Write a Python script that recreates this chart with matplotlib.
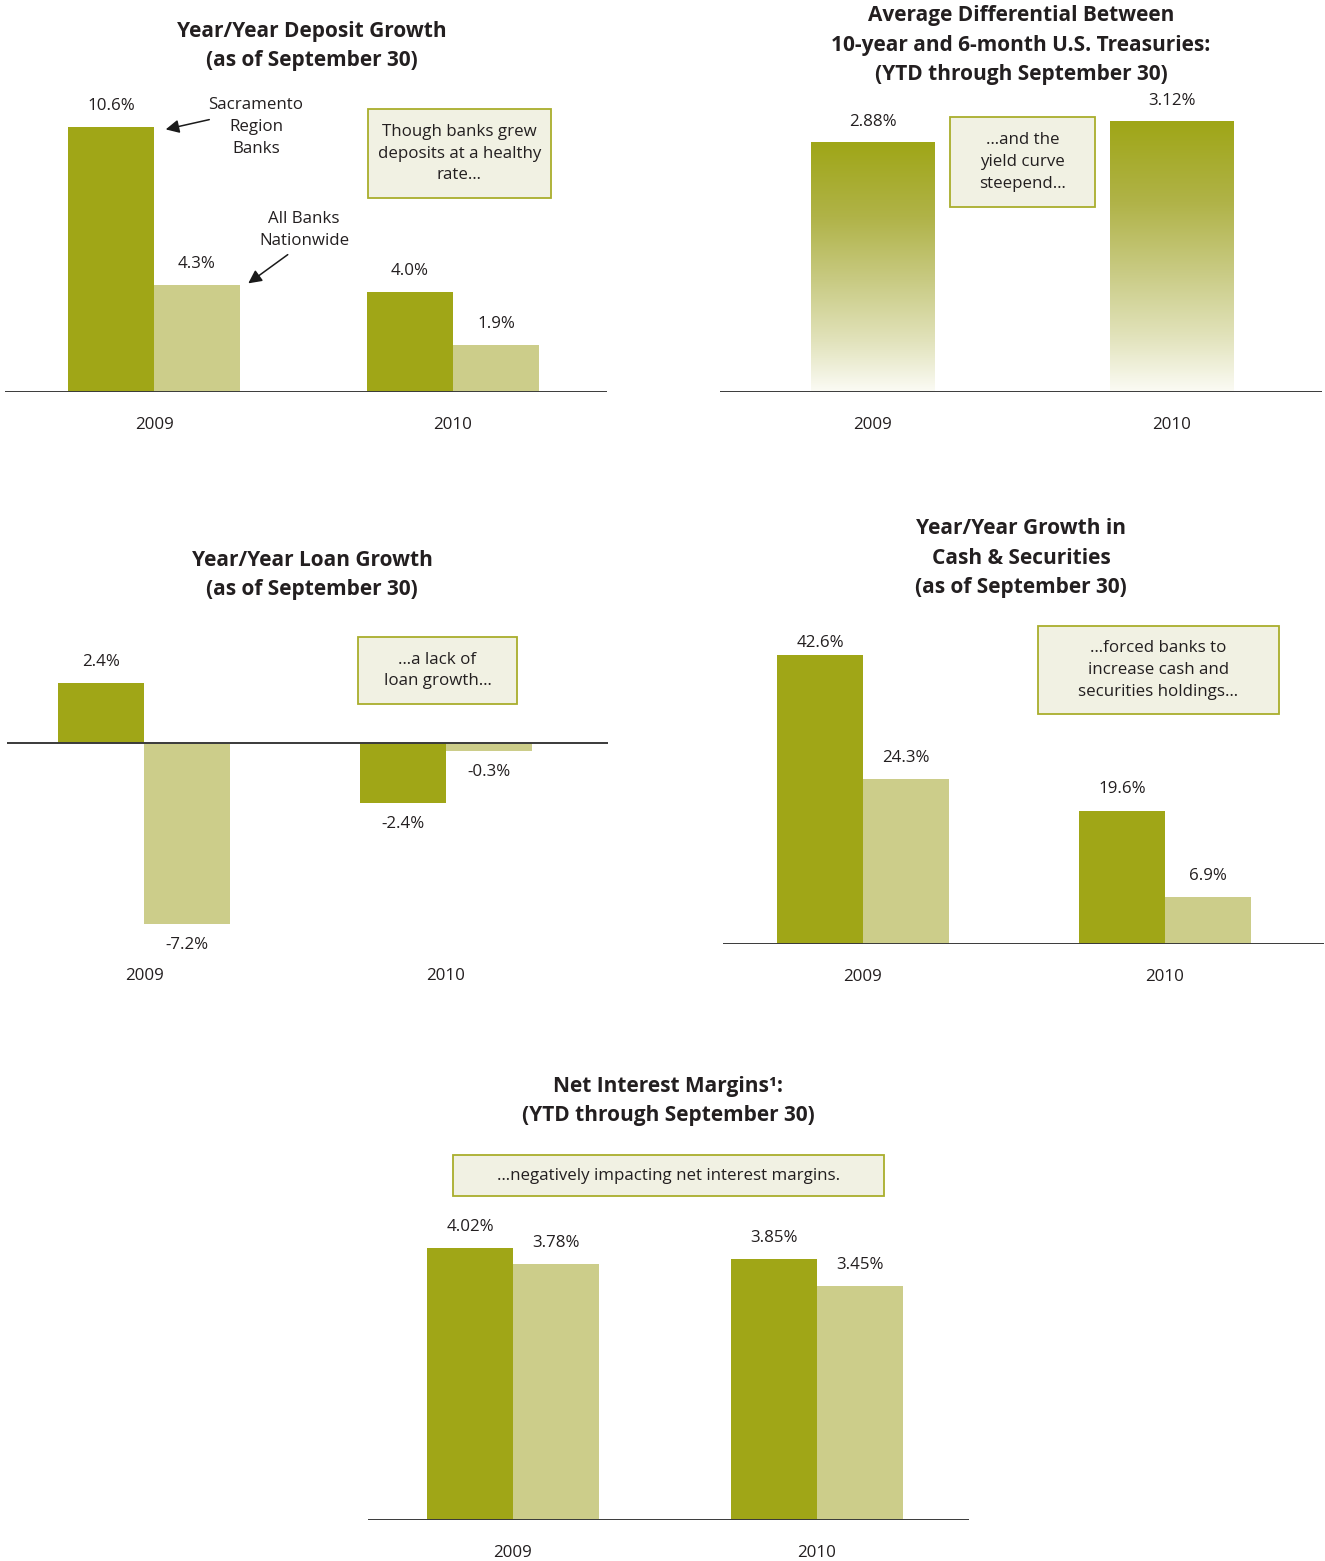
import numpy as np
import matplotlib
matplotlib.use("Agg")
import matplotlib.pyplot as plt
from matplotlib.colors import LinearSegmentedColormap
from matplotlib.patches import Rectangle

plt.rcParams['font.family'] = ['Open Sans', 'DejaVu Sans']

# data
years = ['2009', '2010']
deposit_sac = [10.6, 4.0]
deposit_all = [4.3, 1.9]
treasury_diff = [2.88, 3.12]
loan_sac = [2.4, -2.4]
loan_all = [-7.2, -0.3]
cash_sac = [42.6, 19.6]
cash_all = [24.3, 6.9]
nim_sac = [4.02, 3.85]
nim_all = [3.78, 3.45]

DARK = '#a0a617'
LIGHT = '#cccd8a'
TXT = '#231f20'
BOX_FACE = '#f1f1e3'
BOX_EDGE = '#a9ae2c'
FS = 12.2
LS = 1.47

W, H = 1325, 1561
fig = plt.figure(figsize=(W / 100, H / 100), dpi=100)


def panel(x0, x1, base, ybot, ppu, c0, c1, ytop):
    """axes placed in pixel space; ppu = pixels per data unit"""
    ax = fig.add_axes([x0 / W, 1 - ybot / H, (x1 - x0) / W, (ybot - ytop) / H])
    sp = c1 - c0
    ax.set_xlim((x0 - c0) / sp, (x1 - c0) / sp)
    ax.set_ylim(-(ybot - base) / ppu, (base - ytop) / ppu)
    ax.axis('off')
    ax.axhline(0, color='#3a3a3a', lw=1.4, zorder=5)
    for i, y in enumerate(years):
        ax.annotate(y, (i, 0), xycoords=('data', 'axes fraction'),
                    xytext=(0, -33), textcoords='offset pixels',
                    ha='center', va='center', fontsize=FS, color=TXT)
    return ax, sp


def value_labels(ax, xs, vals, fmt, offs=None):
    offs = offs or [21] * len(vals)
    for x, v, o in zip(xs, vals, offs):
        d = o if v >= 0 else -o
        ax.annotate(fmt.format(v), (x, v), xytext=(0, d),
                    textcoords='offset pixels', ha='center', va='center',
                    fontsize=FS, color=TXT)


def pair(ax, sp, a, b, fmt='{:.1f}%', offs_a=None):
    w = 86 / sp
    x = np.arange(len(years))
    ax.bar(x - w / 2, a, w, color=DARK, zorder=2)
    ax.bar(x + w / 2, b, w, color=LIGHT, zorder=2)
    value_labels(ax, x - w / 2, a, fmt, offs_a)
    value_labels(ax, x + w / 2, b, fmt)


def title(x, y, txt):
    fig.text(x / W, 1 - y / H, txt, ha='center', va='center', fontsize=15,
             fontweight='bold', color=TXT, linespacing=1.52)


def note(x0, y0, x1, y1, txt):
    fig.patches.append(Rectangle((x0 / W, 1 - y1 / H), (x1 - x0) / W, (y1 - y0) / H,
                                 transform=fig.transFigure, facecolor=BOX_FACE,
                                 edgecolor=BOX_EDGE, lw=1.3))
    fig.text((x0 + x1) / 2 / W, 1 - (y0 + y1) / 2 / H, txt, ha='center', va='center',
             fontsize=FS, color=TXT, linespacing=LS)


def px(x, y):
    return (x, H - y)


def arrow(ax, start, end):
    ax.annotate('', xy=px(*end), xytext=px(*start), xycoords='figure pixels',
                textcoords='figure pixels',
                arrowprops=dict(arrowstyle='-|>', color='#1a1a1a', lw=1.1,
                                mutation_scale=20))


# Year/Year Deposit Growth
ax1, sp1 = panel(5, 607, 392, 392, 25.0, 154, 453, 90)
pair(ax1, sp1, deposit_sac, deposit_all)
title(312, 46, 'Year/Year Deposit Growth\n(as of September 30)')
note(368, 109, 551, 198, 'Though banks grew\ndeposits at a healthy\nrate…')
arrow(ax1, (212, 119), (163, 130))
arrow(ax1, (290, 253), (246, 285))
fig.text(256 / W, 1 - 127 / H, 'Sacramento\nRegion\nBanks', ha='center', va='center',
         fontsize=FS, color=TXT, linespacing=LS)
fig.text(304 / W, 1 - 230 / H, 'All Banks\nNationwide', ha='center', va='center',
         fontsize=FS, color=TXT, linespacing=LS)

# Average Differential Between 10-year and 6-month Treasuries (gradient bars)
ax2, sp2 = panel(720, 1322, 392, 392, 86.8, 873, 1172, 90)
grad = LinearSegmentedColormap.from_list(
    'olive_fade', [(0.0, '#fbfbf5'), (0.2, '#e2e3bc'), (0.45, '#c8ca82'),
                   (0.7, '#b0b348'), (1.0, '#9fa617')])
gw = 124 / sp2
g = np.linspace(0, 1, 256).reshape(-1, 1)
for i, v in enumerate(treasury_diff):
    ax2.imshow(g, cmap=grad, origin='lower', aspect='auto',
               extent=[i - gw / 2, i + gw / 2, 0, v], zorder=2)
ax2.set_xlim((720 - 873) / sp2, (1322 - 873) / sp2)
ax2.set_ylim(0, (392 - 90) / 86.8)
value_labels(ax2, range(len(years)), treasury_diff, '{:.2f}%', [20, 20])
title(1021, 45, 'Average Differential Between\n10-year and 6-month U.S. Treasuries:\n(YTD through September 30)')
note(950, 117, 1095, 207, '…and the\nyield curve\nsteepend…')

# Year/Year Loan Growth
ax3, sp3 = panel(7, 608, 743, 943, 25.2, 144, 446, 620)
pair(ax3, sp3, loan_sac, loan_all)
title(312, 575, 'Year/Year Loan Growth\n(as of September 30)')
note(358, 637, 517, 704, '…a lack of\nloan growth…')

# Year/Year Growth in Cash & Securities
ax4, sp4 = panel(723, 1324, 944, 944, 6.78, 863, 1165, 610)
pair(ax4, sp4, cash_sac, cash_all, offs_a=[12, 22])
title(1021, 558, 'Year/Year Growth in\nCash & Securities\n(as of September 30)')
note(1038, 626, 1279, 714, '…forced banks to\nincrease cash and\nsecurities holdings…')

# Net Interest Margins
ax5, sp5 = panel(368, 969, 1520, 1520, 67.7, 513, 817, 1200)
pair(ax5, sp5, nim_sac, nim_all, fmt='{:.2f}%')
title(668, 1101, 'Net Interest Margins¹:\n(YTD through September 30)')
note(453, 1155, 884, 1196, '…negatively impacting net interest margins.')

fig.savefig('out.png', dpi=100)
